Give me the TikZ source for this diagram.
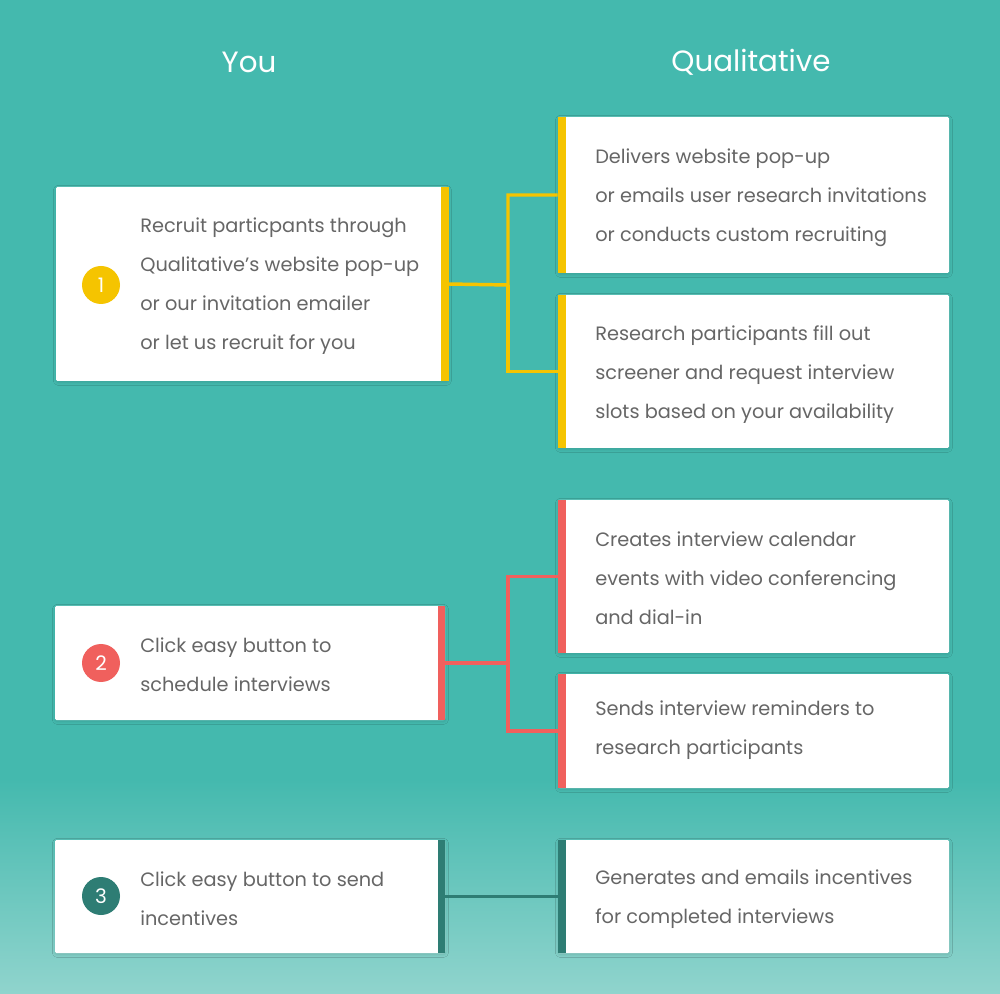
\documentclass[tikz,border=0pt]{standalone}
\usepackage{fontspec}
\setmainfont{Poppins}
\usetikzlibrary{shadows.blur}
\definecolor{bgtop}{HTML}{44B9AE}
\definecolor{bgbot}{HTML}{90D4CD}
\definecolor{txt}{HTML}{666666}
\definecolor{yel}{HTML}{F5C400}
\definecolor{redc}{HTML}{F0605D}
\definecolor{tealc}{HTML}{2E7D74}
\begin{document}
\begin{tikzpicture}[x=0.75pt,y=-0.75pt,
  box/.style={fill=white,inner sep=0pt,rounded corners=1pt,blur shadow={shadow blur steps=5,shadow xshift=0.3pt,shadow yshift=-1pt,shadow opacity=12}},
  txtn/.style={anchor=west,align=left,text=txt,font=\fontsize{14.5}{29.25}\selectfont,inner sep=0pt},
  head/.style={text=white,font=\fontsize{22}{26}\selectfont},
  num/.style={circle,minimum size=28.5pt,inner sep=0pt,text=white,font=\fontsize{15}{18}\selectfont},
  conn/.style={line width=2.6pt}]
\fill[bgtop] (0,0) rectangle (1000,780);
\shade[top color=bgtop,bottom color=bgbot] (0,779) rectangle (1000,994);
\useasboundingbox (0,0) rectangle (1000,994);
\node[head] (hy) at (249,62) {You};
\node[head] (hq) at (751,62) {Qualitative};
% boxes
\node[box,minimum width=294pt,minimum height=145.5pt] (L1) at (252,284) {};
\node[box,minimum width=293.25pt,minimum height=117pt] (R1a) at (753.5,195) {};
\node[box,minimum width=293.25pt,minimum height=114.75pt] (R1b) at (753.5,371.5) {};
\node[box,minimum width=292.5pt,minimum height=85.5pt] (L2) at (250,663) {};
\node[box,minimum width=293.25pt,minimum height=114.75pt] (R2a) at (753.5,576.5) {};
\node[box,minimum width=293.25pt,minimum height=85.5pt] (R2b) at (753.5,731) {};
\node[box,minimum width=292.5pt,minimum height=84.75pt] (L3) at (250,896.5) {};
\node[box,minimum width=293.25pt,minimum height=84.75pt] (R3) at (753.5,896.5) {};
% bars
\fill[yel] (441,187) rectangle (449,381);
\fill[yel] (558,117) rectangle (566,273);
\fill[yel] (558,295) rectangle (566,448);
\fill[redc] (438,606) rectangle (445,720);
\fill[redc] (558,500) rectangle (566,653);
\fill[redc] (558,674) rectangle (566,788);
\fill[tealc] (438,840) rectangle (445,953);
\fill[tealc] (558,840) rectangle (566,953);
% numbers
\node[num,fill=yel] (n1) at (101,285) {1};
\node[num,fill=redc] (n2) at (101,663) {2};
\node[num,fill=tealc] (n3) at (101,896) {3};
% texts
\node[txtn] (t1) at (140,286.5) {Recruit particpants through\\Qualitative’s website pop-up\\or our invitation emailer\\or let us recruit for you};
\node[txtn] (t1a) at (595,198) {Delivers website pop-up\\or emails user research invitations\\or conducts custom recruiting};
\node[txtn] (t1b) at (595,375) {Research participants fill out\\screener and request interview\\slots based on your availability};
\node[txtn] (t2) at (140,665) {Click easy button to\\schedule interviews};
\node[txtn] (t2a) at (595,578) {Creates interview calendar\\events with video conferencing\\and dial-in};
\node[txtn] (t2b) at (595,730.5) {Sends interview reminders to\\research participants};
\node[txtn] (t3) at (140,899) {Click easy button to send\\incentives};
\node[txtn] (t3a) at (595,899.5) {Generates and emails incentives\\for completed interviews};
% connectors
\coordinate (j1) at (508,285);
\coordinate (j2) at (508,663);
\draw[conn,yel] (L1.east) -- (j1) |- (R1a.west);
\draw[conn,yel] (j1) |- (R1b.west);
\draw[conn,redc] (L2.east) -- (j2) |- (R2a.west);
\draw[conn,redc] (j2) |- (R2b.west);
\draw[conn,tealc] (L3.east) -- (R3.west);
\end{tikzpicture}
\end{document}
